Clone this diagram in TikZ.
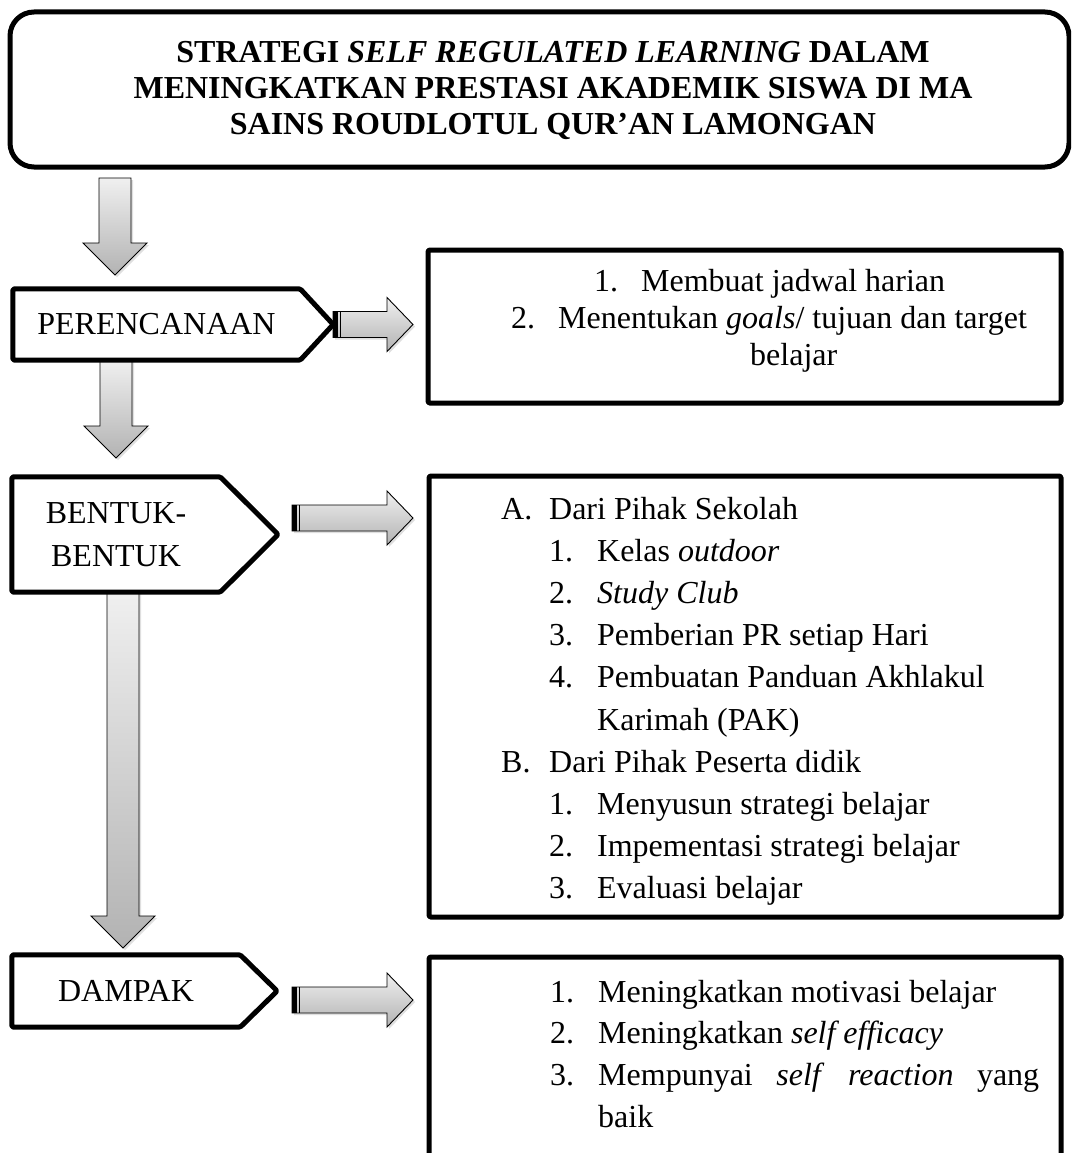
\documentclass[tikz,border=0pt]{standalone}
\usepackage{fontspec}
\setmainfont{Liberation Serif}
\usetikzlibrary{shadows}
\usetikzlibrary{positioning}
\tikzstyle{thickline}=[draw=black, line width=5pt, line join=round]
\tikzstyle{titlebox}=[thickline, rounded corners=24pt, inner sep=0pt]
\tikzstyle{listbox}=[thickline, rounded corners=1.5pt, inner sep=0pt]
\tikzstyle{stage}=[thickline, rounded corners=1.5pt]
\tikzstyle{stagelabel}=[inner sep=0pt, align=center, font=\fontsize{32}{43}\selectfont]
\tikzstyle{listtext}=[inner sep=0pt, anchor=base west]
\tikzstyle{arrowfill}=[draw=black, line width=0.9pt, top color=black!6, bottom color=black!30,
    drop shadow={shadow xshift=2pt, shadow yshift=-2pt, opacity=0.25}]
\tikzset{
  pics/downarr/.style={code={
    \draw[arrowfill] (-16,0) -- (16,0) -- (16,#1-32) -- (32,#1-32) -- (0,#1)
      -- (-32,#1-32) -- (-16,#1-32) -- cycle;
  }},
  pics/rightarr/.style={code={
    \draw[arrowfill] (0,-13) -- (#1-26,-13) -- (#1-26,-27) -- (#1,0)
      -- (#1-26,27) -- (#1-26,13) -- (0,13) -- cycle;
    \fill[black] (0,-13) rectangle (5,13);
    \draw[line width=1pt] (7.5,-13) -- (7.5,13);
  }}
}

\begin{document}
\begin{tikzpicture}[x=1pt, y=-1pt]
\clip (0,0) rectangle (1071,1153);
% arrows between the stages
\pic (d1) at (115,178) {downarr=97};
\pic (d2) at (116,360) {downarr=98};
\pic (d3) at (123,592) {downarr=356};
\pic (r1) at (333,324.5) {rightarr=80};
\pic (r2) at (292,518) {rightarr=121};
\pic (r3) at (292,1000) {rightarr=121};
% title
\node[titlebox, minimum width=1059pt, minimum height=155pt] (title) at (539.5,89.5) {};
\node[inner sep=0pt, anchor=base, font=\fontsize{32}{36}\selectfont\bfseries] (titletext) at (553,63)
  {\begin{tabular}[t]{@{}c@{}}
   STRATEGI \textit{SELF REGULATED LEARNING} DALAM\\
   MENINGKATKAN PRESTASI AKADEMIK SISWA DI MA\\
   SAINS ROUDLOTUL QUR’AN LAMONGAN
   \end{tabular}};
% stages
\node[stagelabel, minimum width=287pt, minimum height=71pt] (plan) at (156.5,324.5) {PERENCANAAN};
\draw[stage] (plan.north west) -- (plan.north east) -- ([xshift=33pt]plan.east)
  -- (plan.south east) -- (plan.south west) -- cycle;
\node[stagelabel, minimum width=208pt, minimum height=115pt] (form) at (116,534.5) {BENTUK-\\BENTUK};
\draw[stage] (form.north west) -- (form.north east) -- ([xshift=58pt]form.east)
  -- (form.south east) -- (form.south west) -- cycle;
\node[stagelabel, minimum width=228pt, minimum height=72pt] (impact) at (126,991) {DAMPAK};
\draw[stage] (impact.north west) -- (impact.north east) -- ([xshift=37pt]impact.east)
  -- (impact.south east) -- (impact.south west) -- cycle;
% boxes
\node[listbox, minimum width=633pt, minimum height=153pt] (planbox) at (744.5,326.5) {};
\node[listbox, minimum width=632pt, minimum height=441pt] (formbox) at (745,696.5) {};
\node[listbox, minimum width=632pt, minimum height=218pt] (impactbox) at (745,1066) {};
\node[listtext, font=\fontsize{32}{37}\selectfont] (planlist) at (511,291)
  {\begin{tabular}[t]{@{}l@{}}
   \hspace*{83pt}\makebox[47pt][l]{1.}Membuat jadwal harian\\
   \makebox[47pt][l]{2.}Menentukan \textit{goals}/ tujuan dan target\\
   \hspace*{239pt}belajar
   \end{tabular}};
\node[listtext, font=\fontsize{32}{42.2}\selectfont] (formlist) at (501,519)
  {\begin{tabular}[t]{@{}l@{}}
   \makebox[48pt][l]{A.}Dari Pihak Sekolah\\
   \hspace*{48pt}\makebox[48pt][l]{1.}Kelas \textit{outdoor}\\
   \hspace*{48pt}\makebox[48pt][l]{2.}\textit{Study Club}\\
   \hspace*{48pt}\makebox[48pt][l]{3.}Pemberian PR setiap Hari\\
   \hspace*{48pt}\makebox[48pt][l]{4.}Pembuatan Panduan Akhlakul\\
   \hspace*{96pt}Karimah (PAK)\\
   \makebox[48pt][l]{B.}Dari Pihak Peserta didik\\
   \hspace*{48pt}\makebox[48pt][l]{1.}Menyusun strategi belajar\\
   \hspace*{48pt}\makebox[48pt][l]{2.}Impementasi strategi belajar\\
   \hspace*{48pt}\makebox[48pt][l]{3.}Evaluasi belajar
   \end{tabular}};
\node[listtext, font=\fontsize{32}{41.7}\selectfont] (impactlist) at (550,1002)
  {\begin{tabular}[t]{@{}l@{}}
   \makebox[48pt][l]{1.}Meningkatkan motivasi belajar\\
   \makebox[48pt][l]{2.}Meningkatkan \textit{self efficacy}\\
   \makebox[48pt][l]{3.}\makebox[441pt][s]{Mempunyai \textit{self} \textit{reaction} yang}\\
   \hspace*{48pt}baik
   \end{tabular}};
\end{tikzpicture}
\end{document}
